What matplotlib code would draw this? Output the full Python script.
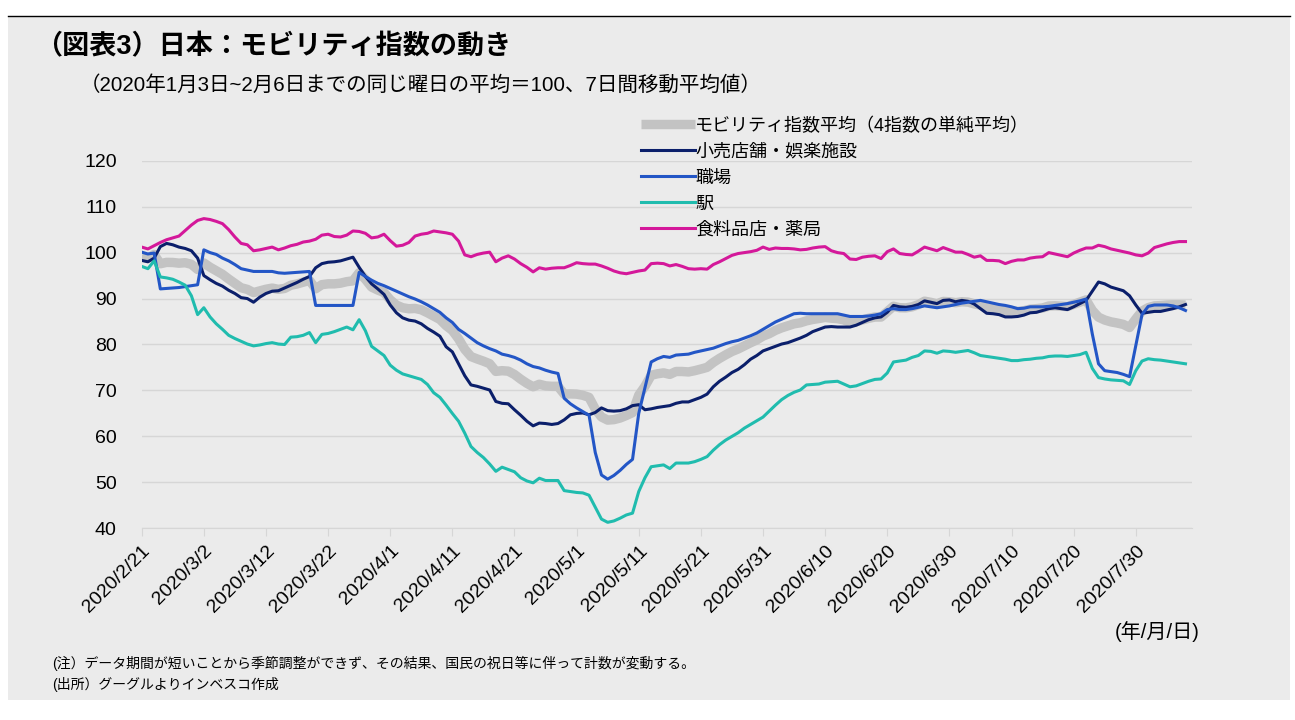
import numpy as np
import pandas as pd
import matplotlib
matplotlib.use("Agg")
import matplotlib.pyplot as plt
import matplotlib.transforms as mtransforms
from matplotlib.lines import Line2D

plt.rcParams['font.family'] = ['Liberation Sans', 'Noto Sans CJK JP', 'DejaVu Sans']

# ---- data (daily, 2020/2/21 - 2020/8/7) ----
start = '2020-02-21'
n_days = 169

retail = [98.3, 98.0, 98.8, 101.3, 102.0, 101.7, 101.2, 100.9, 100.4, 98.8,
          95.0, 94.1, 93.3, 92.7, 91.8, 91.1, 90.2, 90.0, 89.2, 90.3,
          91.1, 91.6, 91.7, 92.3, 92.9, 93.5, 94.2, 94.8, 96.7, 97.6,
          97.9, 98.0, 98.2, 98.6, 99.0, 96.8, 94.8, 93.2, 92.1, 90.9,
          88.6, 86.9, 85.8, 85.3, 85.1, 84.5, 83.5, 82.7, 81.8, 79.5,
          78.4, 75.8, 73.2, 71.2, 70.9, 70.5, 70.1, 67.6, 67.2, 67.1,
          65.8, 64.6, 63.3, 62.3, 62.9, 62.8, 62.6, 62.8, 63.6, 64.7,
          65.0, 65.1, 64.7, 65.2, 66.2, 65.6, 65.5, 65.6, 66.0, 66.7,
          66.9, 65.8, 66.0, 66.3, 66.5, 66.7, 67.2, 67.5, 67.5, 68.0,
          68.5, 69.2, 70.8, 72.0, 72.9, 73.9, 74.6, 75.6, 76.8, 77.6,
          78.6, 79.1, 79.6, 80.1, 80.4, 80.9, 81.4, 82.0, 82.8, 83.3,
          83.8, 83.9, 83.8, 83.8, 83.8, 84.2, 84.8, 85.4, 85.8, 86.0,
          87.0, 88.5, 88.2, 88.1, 88.3, 88.7, 89.5, 89.2, 88.9, 89.6,
          89.7, 89.3, 89.6, 89.4, 88.8, 87.8, 86.8, 86.7, 86.5, 86.0,
          86.0, 86.1, 86.4, 86.9, 87.0, 87.4, 87.8, 88.0, 87.8, 87.6,
          88.2, 88.9, 89.6, 91.6, 93.6, 93.2, 92.5, 92.1, 91.7, 90.6,
          88.6, 86.8, 87.0, 87.2, 87.2, 87.5, 87.8, 88.2, 88.7]

workplace = [100.1, 99.7, 99.9, 92.1, 92.2, 92.3, 92.4, 92.6, 92.8, 93.0,
             100.6, 100.0, 99.6, 98.8, 98.2, 97.4, 96.5, 96.2, 95.9, 95.9,
             95.9, 95.9, 95.6, 95.5, 95.6, 95.7, 95.8, 95.9, 88.5, 88.5,
             88.5, 88.5, 88.5, 88.5, 88.5, 95.7, 94.8, 94.0, 93.3, 92.8,
             92.2, 91.6, 91.0, 90.4, 89.9, 89.3, 88.6, 87.8, 87.0, 85.8,
             84.8, 83.3, 82.4, 81.4, 80.4, 79.7, 79.1, 78.6, 77.9, 77.6,
             77.2, 76.6, 75.8, 75.2, 74.9, 74.4, 74.0, 73.7, 68.3, 67.1,
             66.2, 65.4, 64.6, 56.5, 51.6, 50.7, 51.5, 52.6, 53.9, 55.0,
             65.0, 70.6, 76.2, 76.9, 77.4, 77.2, 77.7, 77.8, 77.9, 78.3,
             78.6, 78.9, 79.2, 79.7, 80.2, 80.6, 80.9, 81.4, 81.9, 82.5,
             83.3, 84.1, 84.9, 85.5, 86.1, 86.7, 86.8, 86.7, 86.7, 86.7,
             86.7, 86.7, 86.7, 86.4, 86.1, 86.1, 86.1, 86.2, 86.4, 86.7,
             87.6, 87.8, 87.6, 87.6, 87.8, 88.1, 88.4, 88.2, 88.0, 88.2,
             88.4, 88.7, 89.0, 89.2, 89.4, 89.6, 89.3, 89.0, 88.7, 88.5,
             88.2, 87.8, 87.9, 88.2, 88.2, 88.2, 88.3, 88.5, 88.7, 88.9,
             89.2, 89.5, 89.9, 82.3, 75.8, 74.3, 74.1, 73.9, 73.5, 73.0,
             79.8, 86.5, 88.3, 88.6, 88.6, 88.6, 88.4, 88.0, 87.4]

station = [97.0, 96.5, 98.2, 94.7, 94.5, 94.2, 93.6, 92.9, 90.6, 86.5,
           88.0, 86.0, 84.5, 83.3, 82.0, 81.3, 80.7, 80.1, 79.7, 79.9,
           80.2, 80.4, 80.1, 80.0, 81.6, 81.7, 82.0, 82.6, 80.4, 82.2,
           82.4, 82.8, 83.3, 83.8, 83.2, 85.4, 83.0, 79.6, 78.6, 77.6,
           75.5, 74.4, 73.6, 73.2, 72.8, 72.4, 71.3, 69.5, 68.5, 66.8,
           65.0, 63.3, 60.7, 57.8, 56.5, 55.4, 54.0, 52.4, 53.3, 52.8,
           52.3, 51.0, 50.3, 49.9, 50.9, 50.4, 50.4, 50.4, 48.2, 48.0,
           47.8, 47.7, 47.2, 44.6, 42.0, 41.3, 41.6, 42.2, 42.9, 43.3,
           48.0, 51.0, 53.4, 53.6, 53.8, 53.0, 54.2, 54.2, 54.2, 54.5,
           55.0, 55.6, 57.0, 58.2, 59.2, 60.0, 60.8, 61.8, 62.6, 63.4,
           64.2, 65.5, 66.8, 68.0, 68.9, 69.6, 70.1, 71.2, 71.3, 71.4,
           71.8, 71.9, 72.0, 71.4, 70.8, 71.0, 71.5, 72.0, 72.4, 72.5,
           73.8, 76.2, 76.4, 76.6, 77.2, 77.6, 78.6, 78.5, 78.1, 78.6,
           78.5, 78.3, 78.5, 78.7, 78.2, 77.6, 77.4, 77.2, 77.0, 76.8,
           76.5, 76.5, 76.7, 76.8, 77.0, 77.1, 77.4, 77.5, 77.5, 77.4,
           77.6, 77.8, 78.3, 74.8, 72.8, 72.5, 72.3, 72.2, 72.1, 71.3,
           74.3, 76.4, 76.9, 76.7, 76.6, 76.4, 76.2, 76.0, 75.8]

grocery = [101.2, 100.8, 101.5, 102.2, 102.8, 103.2, 103.6, 104.8, 106.0, 107.0,
           107.4, 107.2, 106.8, 106.3, 105.0, 103.4, 102.0, 101.7, 100.4, 100.6,
           100.9, 101.2, 100.6, 101.0, 101.5, 101.8, 102.3, 102.5, 102.9, 103.8,
           104.0, 103.5, 103.4, 103.8, 104.7, 104.6, 104.2, 103.2, 103.4, 104.0,
           102.6, 101.4, 101.6, 102.2, 103.6, 104.0, 104.2, 104.7, 104.5, 104.3,
           104.0, 102.5, 99.5, 99.1, 99.6, 99.9, 100.1, 98.0, 98.8, 99.3,
           98.6, 97.6, 96.8, 95.8, 96.7, 96.4, 96.6, 96.7, 96.7, 97.2,
           97.8, 97.6, 97.5, 97.5, 97.1, 96.6, 96.0, 95.6, 95.4, 95.7,
           96.0, 96.2, 97.6, 97.7, 97.6, 97.1, 97.4, 97.0, 96.5, 96.4,
           96.5, 96.4, 97.4, 98.0, 98.7, 99.4, 99.8, 100.0, 100.2, 100.5,
           101.2, 100.7, 101.0, 100.9, 100.9, 100.8, 100.6, 100.7, 101.0, 101.2,
           101.3, 100.4, 100.0, 99.8, 98.6, 98.5, 99.0, 99.2, 99.3, 98.7,
           100.2, 100.8, 99.8, 99.6, 99.5, 100.3, 101.2, 100.8, 100.4, 101.1,
           100.6, 100.1, 100.1, 99.6, 99.0, 99.3, 98.3, 98.3, 98.2, 97.6,
           98.1, 98.4, 98.4, 98.8, 99.0, 99.1, 100.0, 99.7, 99.4, 99.1,
           99.9, 100.5, 101.0, 101.0, 101.6, 101.3, 100.8, 100.5, 100.2, 99.9,
           99.5, 99.3, 99.9, 101.1, 101.5, 101.9, 102.2, 102.4, 102.4]

labels = ['モビリティ指数平均（4指数の単純平均）', '小売店舗・娯楽施設', '職場', '駅', '食料品店・薬局']
colors = ['#c3c3c3', '#0b1f6b', '#2356c6', '#20bcae', '#d4189a']

dates = pd.date_range(start, periods=n_days, freq='D')
df = pd.DataFrame({'retail': retail, 'workplace': workplace,
                   'station': station, 'grocery': grocery}, index=dates)
# gray line = simple mean of the 4 indices
df['avg'] = df[['retail', 'workplace', 'station', 'grocery']].mean(axis=1)

bg = '#ebebeb'
fig = plt.figure(figsize=(12.95, 7.2), dpi=100)
fig.patch.set_facecolor('white')
# gray panel + top rule
fig.patches.append(plt.Rectangle((8/1295, 1-700/720), 1282/1295, 684/720,
                                 transform=fig.transFigure, facecolor=bg,
                                 edgecolor='none', zorder=-5))
fig.add_artist(Line2D([8/1295, 1290/1295], [1-15.5/720, 1-15.5/720],
                      transform=fig.transFigure, color='black', lw=1.0))

ax = fig.add_axes([141.7/1295, 1-528.3/720, 1050/1295, 367.6/720])
ax.set_facecolor(bg)

ax.plot(df.index, df['avg'], color=colors[0], lw=6.8, solid_capstyle='butt', zorder=2)
ax.plot(df.index, df['retail'], color=colors[1], lw=2.2, zorder=3)
ax.plot(df.index, df['workplace'], color=colors[2], lw=2.2, zorder=3)
ax.plot(df.index, df['station'], color=colors[3], lw=2.2, zorder=3)
ax.plot(df.index, df['grocery'], color=colors[4], lw=2.2, zorder=3)

ax.set_ylim(40, 120)
ax.set_yticks(np.arange(40, 121, 10))
ax.set_xlim(dates[0], dates[0] + pd.Timedelta(days=169))
ticks = dates[::10]
ax.set_xticks(ticks)
ax.set_xticklabels([f"{d.year}/{d.month}/{d.day}" for d in ticks],
                   rotation=45, ha='right', rotation_mode='anchor', fontsize=14)
offset = mtransforms.ScaledTranslation(9/100, 0, fig.dpi_scale_trans)
for lab in ax.get_xticklabels():
    lab.set_transform(lab.get_transform() + offset)

ax.grid(axis='y', color='#d6d6d6', lw=1.0)
ax.set_axisbelow(True)
for s in ['top', 'right', 'left']:
    ax.spines[s].set_visible(False)
ax.spines['bottom'].set_color('#d6d6d6')
ax.tick_params(axis='y', length=0, labelsize=14, pad=18)
ax.tick_params(axis='x', length=6, color='#d6d6d6', pad=4)

handles = [Line2D([], [], color=colors[0], lw=6.8, solid_capstyle='butt')] + \
          [Line2D([], [], color=c, lw=2.2) for c in colors[1:]]
fig.legend(handles, labels, loc='upper left', bbox_to_anchor=(634/1295, 1-110/720),
           frameon=False, fontsize=13, handlelength=3.0, handletextpad=0.0,
           labelspacing=0.5, borderaxespad=0)

fig.text(35/1295, 1-47/720, '（図表3）日本：モビリティ指数の動き', fontsize=19.5,
         fontweight='bold', va='center', ha='left')
fig.text(80/1295, 1-85/720, '（2020年1月3日~2月6日までの同じ曜日の平均＝100、7日間移動平均値）',
         fontsize=14.8, va='center', ha='left')
fig.text(1200/1295, 1-632/720, '(年/月/日)', fontsize=14.5, va='center', ha='right')
fig.text(52/1295, 1-663/720, '(注）データ期間が短いことから季節調整ができず、その結果、国民の祝日等に伴って計数が変動する。',
         fontsize=10, va='center', ha='left')
fig.text(52/1295, 1-684/720, '(出所）グーグルよりインベスコ作成', fontsize=10, va='center', ha='left')

fig.savefig('out.png', dpi=100, facecolor=fig.get_facecolor())
